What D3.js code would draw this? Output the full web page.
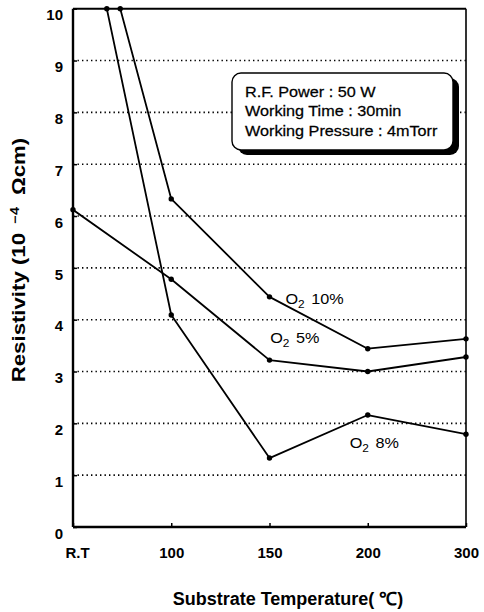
<!DOCTYPE html>
<html>
<head>
<meta charset="utf-8">
<script src="https://cdn.jsdelivr.net/npm/d3@7"></script>
<style>
  html, body { margin: 0; padding: 0; background: #fff; }
  svg { display: block; }
  text { font-family: "Liberation Sans", Arial, Helvetica, sans-serif; fill: #000; }
</style>
</head>
<body>
<svg id="chart" width="484" height="612"></svg>
<script>
// Substrate temperature categories (equally spaced on the axis)
const categories = ["R.T", "100", "150", "200", "300"];

// Resistivity (10^-4 Ω·cm) per O2 ratio; R.T values for 8% and 10% lie above the axis range
const o2_5  = [6.12, 4.78, 3.22, 3.00, 3.28];
const o2_8  = [13.1, 4.09, 1.33, 2.16, 1.79];
const o2_10 = [13.4, 6.33, 4.44, 3.44, 3.63];

const seriesNames = ["O\u2082 5%", "O\u2082 8%", "O\u2082 10%"];
const yTicks = [0, 1, 2, 3, 4, 5, 6, 7, 8, 9, 10];
const conditions = ["R.F. Power : 50 W", "Working Time : 30min", "Working Pressure : 4mTorr"];

const series = [
  { name: seriesNames[0], values: o2_5 },
  { name: seriesNames[1], values: o2_8 },
  { name: seriesNames[2], values: o2_10 }
];

const W = 484, H = 612;
const margin = { top: 8.7, right: 18, bottom: 85, left: 73 };
const x0 = margin.left, x1 = W - margin.right;
const y0 = H - margin.bottom, y1 = margin.top;

const svg = d3.select("#chart");

const x = d3.scalePoint().domain(categories).range([x0, x1]);
const y = d3.scaleLinear().domain([0, 10]).range([y0, y1]);

// clip region for the data lines
svg.append("defs").append("clipPath").attr("id", "plotClip")
  .append("rect").attr("x", x0).attr("y", y1).attr("width", x1 - x0).attr("height", y0 - y1);

// dotted horizontal grid
svg.append("g")
  .selectAll("line")
  .data(yTicks.filter(t => t > 0 && t < 10))
  .join("line")
  .attr("x1", x0).attr("x2", x1)
  .attr("y1", d => y(d)).attr("y2", d => y(d))
  .attr("stroke", "#000").attr("stroke-width", 1.6)
  .attr("stroke-dasharray", "1.4,3.1");

// y axis with labels set slightly below the grid lines
const yAxis = d3.axisLeft(y).tickValues(yTicks).tickSize(-4).tickPadding(10).tickFormat(d3.format("d"));
const gy = svg.append("g").attr("transform", `translate(${x0},0)`).call(yAxis);
gy.select(".domain").remove();
gy.selectAll(".tick line").attr("stroke", "#000").attr("stroke-width", 1.5);
gy.selectAll(".tick text")
  .attr("dy", "0.75em")
  .style("font-size", "15px").style("font-weight", "bold")
  .style("font-family", "'Liberation Sans', Arial, sans-serif");

// x axis
const xAxis = d3.axisBottom(x).tickSize(-4).tickPadding(20);
const gx = svg.append("g").attr("transform", `translate(0,${y0})`).call(xAxis);
gx.select(".domain").remove();
gx.selectAll(".tick line").attr("stroke", "#000").attr("stroke-width", 1.5);
gx.selectAll(".tick text")
  .style("font-size", "15px").style("font-weight", "bold")
  .style("font-family", "'Liberation Sans', Arial, sans-serif");
gx.selectAll(".tick text").filter(d => d === "R.T").attr("dx", 4);

// frame
svg.append("line").attr("x1", x0).attr("x2", x0).attr("y1", y1).attr("y2", y0)
  .attr("stroke", "#000").attr("stroke-width", 2.4);
svg.append("line").attr("x1", x0).attr("x2", x1).attr("y1", y0).attr("y2", y0)
  .attr("stroke", "#000").attr("stroke-width", 2.4);
svg.append("line").attr("x1", x0).attr("x2", x1).attr("y1", y1).attr("y2", y1)
  .attr("stroke", "#000").attr("stroke-width", 2);
svg.append("line").attr("x1", x1).attr("x2", x1).attr("y1", y1).attr("y2", y0)
  .attr("stroke", "#000").attr("stroke-width", 1.6);

// data lines
const line = d3.line().x((d, i) => x(categories[i])).y(d => y(d));
const gLines = svg.append("g").attr("clip-path", "url(#plotClip)");
series.forEach(s => {
  gLines.append("path")
    .attr("d", line(s.values))
    .attr("fill", "none").attr("stroke", "#000").attr("stroke-width", 1.8)
    .attr("stroke-linejoin", "round");
});

// markers: in-range points, plus the point where an off-scale segment meets the top edge
const yMax = y.domain()[1];
series.forEach(s => {
  const pts = [];
  s.values.forEach((v, i) => {
    if (v <= yMax) pts.push([x(categories[i]), y(v)]);
    if (i > 0) {
      const a = s.values[i - 1];
      if ((a > yMax) !== (v > yMax)) {
        const t = (a - yMax) / (a - v);
        const xa = x(categories[i - 1]), xb = x(categories[i]);
        pts.push([xa + t * (xb - xa), y(yMax)]);
      }
    }
  });
  svg.append("g").selectAll("circle").data(pts).join("circle")
    .attr("cx", d => d[0]).attr("cy", d => d[1]).attr("r", 2.7).attr("fill", "#000");
});

// series annotations placed beside their lines
function o2Label(px, py, pct) {
  const t = svg.append("text")
    .attr("transform", `translate(${px},${py}) scale(1.08,1)`)
    .style("font-size", "15px");
  t.append("tspan").text("O");
  t.append("tspan").attr("dy", 4).style("font-size", "11px").text("2");
  t.append("tspan").attr("dy", -4).attr("dx", 6).text(pct);
}
o2Label(x("150") + 16, y(o2_10[2]) + 7, "10%");
o2Label(x("100") + 99, y(o2_5[1]) + 64, "5%");
o2Label(x("200") - 18, y(o2_8[3]) + 33, "8%");

// process conditions box with drop shadow
const bx = 232, by = 73, bw = 221, bh = 77;
svg.append("rect").attr("x", bx + 6).attr("y", by + 5).attr("width", bw).attr("height", bh)
  .attr("rx", 9).attr("fill", "#000");
svg.append("rect").attr("x", bx).attr("y", by).attr("width", bw).attr("height", bh)
  .attr("rx", 9).attr("fill", "#fff").attr("stroke", "#000").attr("stroke-width", 1.4);
svg.append("g").attr("transform", `translate(${bx + 13},0) scale(1.08,1)`)
  .selectAll("text").data(conditions).join("text")
  .attr("x", 0).attr("y", (d, i) => by + 24 + i * 19.5)
  .style("font-size", "15px")
  .attr("stroke", "#000").attr("stroke-width", 0.25)
  .text(d => d);

// axis titles
svg.append("text")
  .attr("transform", `translate(25,260) rotate(-90) scale(1.2,1)`)
  .attr("text-anchor", "middle")
  .style("font-size", "18.5px").style("font-weight", "bold")
  .call(t => {
    t.append("tspan").text("Resistivity (10");
    t.append("tspan").attr("dy", -6).attr("dx", 8).style("font-size", "12px").text("\u22124");
    t.append("tspan").attr("dy", 6).attr("dx", 10).text("\u03A9cm)");
  });

svg.append("text")
  .attr("x", 288).attr("y", 605)
  .attr("text-anchor", "middle")
  .style("font-size", "18px").style("font-weight", "bold")
  .text("Substrate Temperature( \u2103)");
</script>
</body>
</html>
